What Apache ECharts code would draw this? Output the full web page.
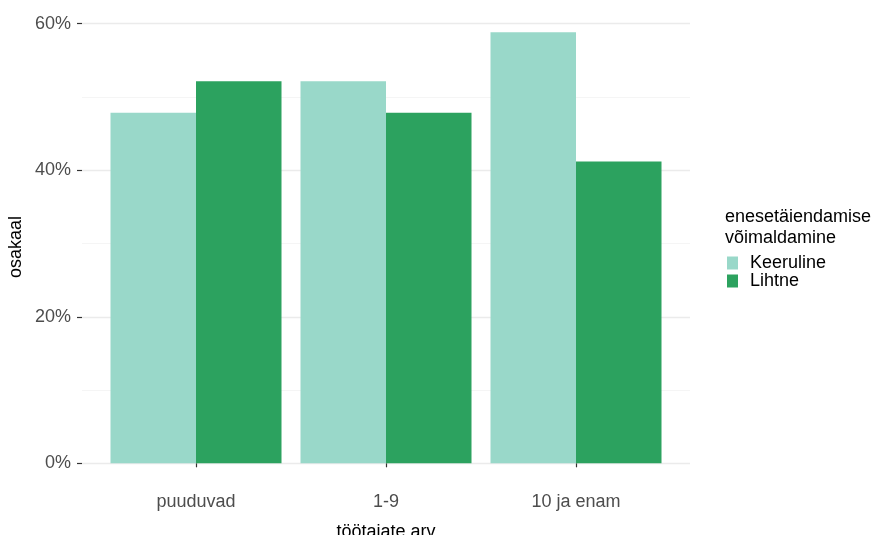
<!DOCTYPE html>
<html>
<head>
<meta charset="utf-8">
<script src="https://cdn.jsdelivr.net/npm/echarts@6/dist/echarts.min.js"></script>
<style>
html,body{margin:0;padding:0;background:#fff;}
#c{width:881px;height:535px;}
</style>
</head>
<body>
<div id="c"></div>
<script>
const categories = ['puuduvad', '1-9', '10 ja enam'];
const seriesNames = ['Keeruline', 'Lihtne'];
const keeruline = [47.86, 52.15, 58.84];
const lihtne = [52.15, 47.86, 41.18];
const yTicks = [0, 20, 40, 60];

const FONT = '"Liberation Sans", Arial, sans-serif';
const chart = echarts.init(document.getElementById('c'), null, {renderer: 'canvas'});
const gTop = 23.7, gBottom = 535 - 463.3;
chart.setOption({
  animation: false,
  backgroundColor: '#ffffff',
  textStyle: {fontFamily: FONT},
  grid: [
    {left: 82, right: 881 - 690, top: gTop, bottom: gBottom, containLabel: false, outerBoundsMode: 'none'},
    {left: 101, right: 881 - 671, top: gTop, bottom: gBottom, containLabel: false, outerBoundsMode: 'none'}
  ],
  xAxis: [
    {gridIndex: 0, type: 'category', data: [''], show: false},
    {gridIndex: 1, type: 'category', data: categories, offset: 21.5,
      axisLine: {show: false},
      axisTick: {show: true, alignWithLabel: true, length: 4, lineStyle: {color: '#333333', width: 1.2}},
      axisLabel: {color: '#4d4d4d', fontSize: 18, fontFamily: FONT, margin: 8},
      name: 'töötajate arv', nameLocation: 'middle', nameGap: 38,
      nameTextStyle: {color: '#000000', fontSize: 18, fontFamily: FONT}
    }
  ],
  yAxis: [
    {gridIndex: 0, type: 'value', min: yTicks[0], max: yTicks[yTicks.length - 1], interval: 20,
      axisLine: {show: false},
      axisTick: {show: true, length: 5, lineStyle: {color: '#333333', width: 1.2}},
      axisLabel: {color: '#4d4d4d', fontSize: 18, fontFamily: FONT, margin: 11, formatter: '{value}%'},
      splitLine: {show: true, lineStyle: {color: '#ebebeb', width: 1.3}},
      minorTick: {show: false, splitNumber: 2},
      minorSplitLine: {show: true, lineStyle: {color: '#f2f2f2', width: 0.8}}
    },
    {gridIndex: 1, type: 'value', min: yTicks[0], max: yTicks[yTicks.length - 1], show: false}
  ],
  legend: {
    orient: 'vertical', left: 727, top: 254, itemWidth: 11, itemHeight: 13, itemGap: 0, padding: 0,
    icon: 'rect', data: seriesNames,
    textStyle: {color: '#000000', fontSize: 18, fontFamily: FONT, lineHeight: 17.5, padding: [0, 0, 0, 7]}
  },
  graphic: [
    {type: 'text', left: 725, top: 207, style: {text: 'enesetäiendamise\nvõimaldamine', fill: '#000000', font: '18px ' + FONT, lineHeight: 21}},
    {type: 'text', x: 16, y: 247, rotation: Math.PI / 2,
      style: {text: 'osakaal', fill: '#000000', font: '18px ' + FONT, textAlign: 'center', textVerticalAlign: 'middle'}}
  ],
  series: [
    {name: seriesNames[0], type: 'bar', xAxisIndex: 1, yAxisIndex: 1, data: keeruline,
      itemStyle: {color: '#99d8c9'}, barGap: '0%', barCategoryGap: '10%'},
    {name: seriesNames[1], type: 'bar', xAxisIndex: 1, yAxisIndex: 1, data: lihtne,
      itemStyle: {color: '#2ca25f'}, barGap: '0%', barCategoryGap: '10%'}
  ]
});
</script>
</body>
</html>
